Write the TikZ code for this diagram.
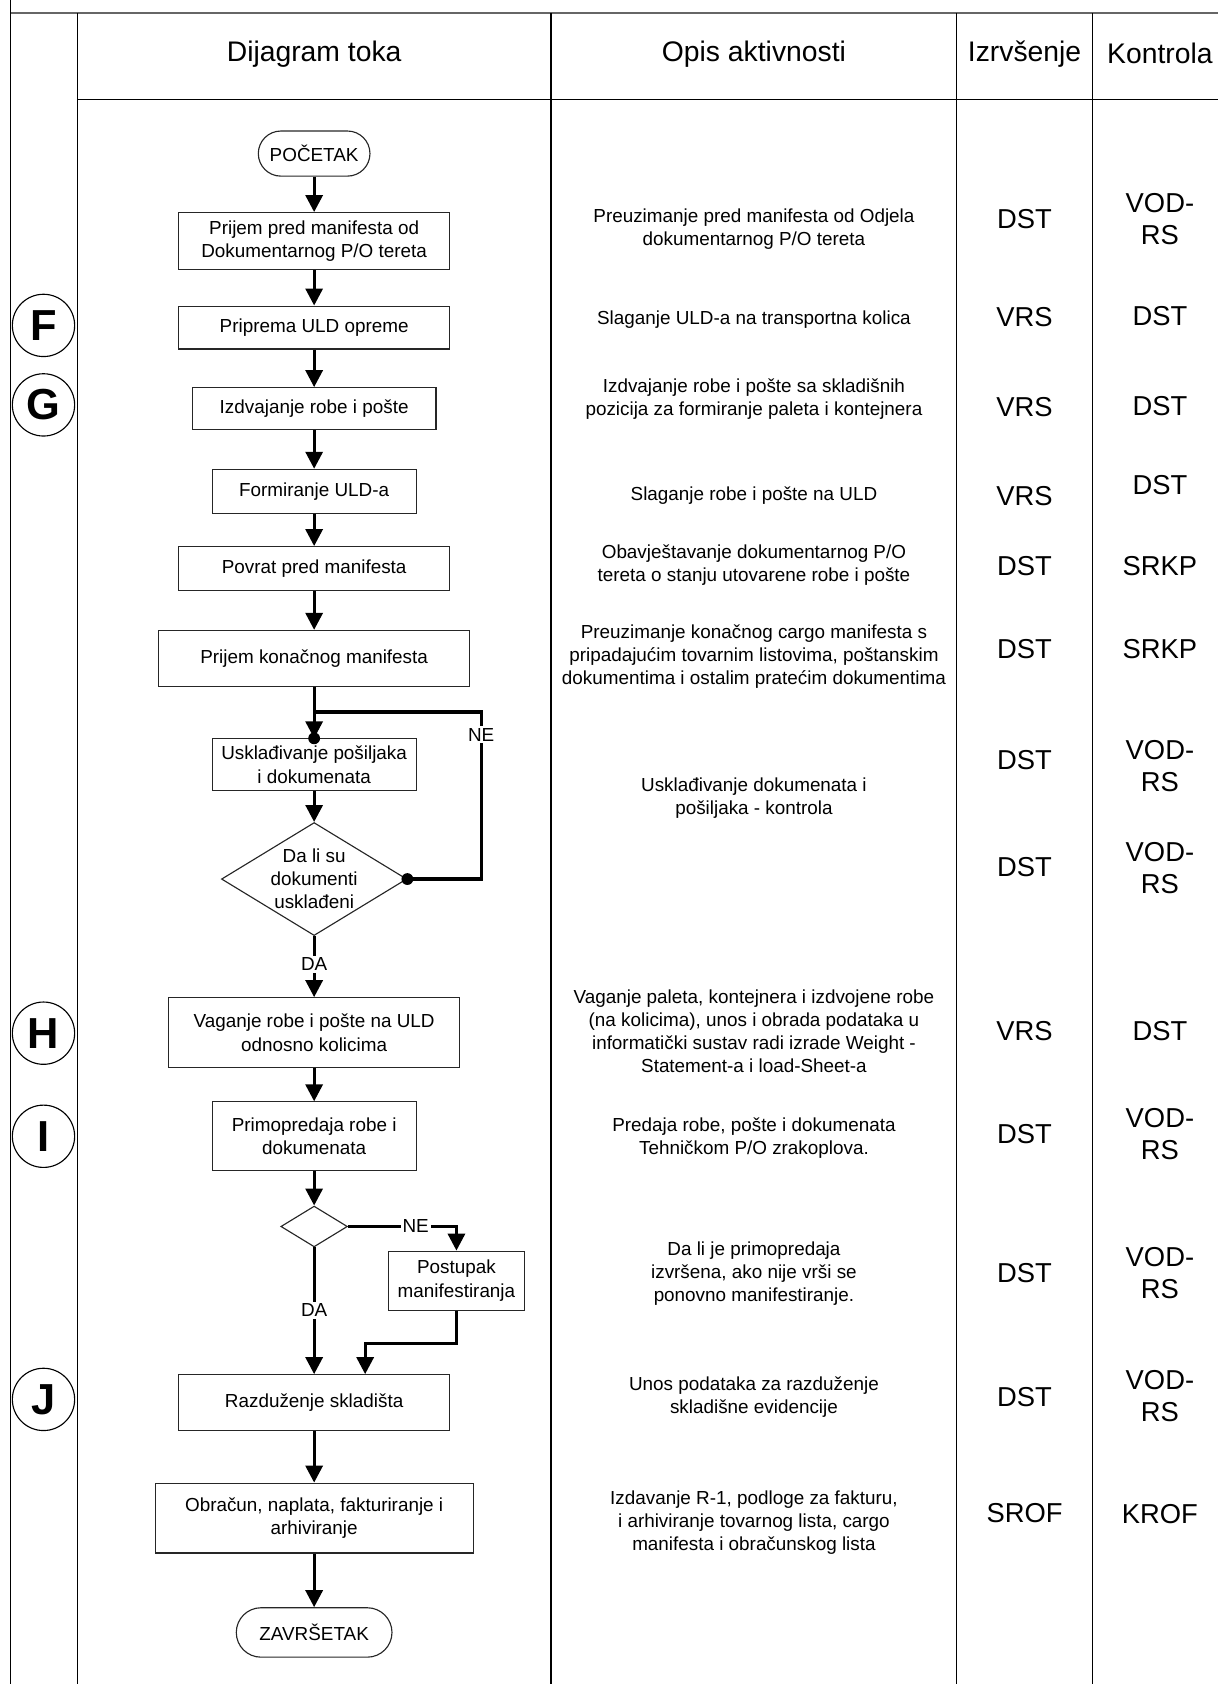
\documentclass[tikz,border=0pt]{standalone}
\usepackage{fontspec}
\setmainfont{Liberation Sans}
\usepackage{xcolor}
\usepackage{tikz}
\usetikzlibrary{arrows.meta,shapes.geometric,shapes.misc}

\begin{document}
\begin{tikzpicture}[
    korak/.style={draw=black!85, line width=0.6pt, rectangle, inner sep=2pt, align=center, font=\fontsize{10}{12.4}\selectfont},
    terminal/.style={draw=black!85, line width=0.6pt, rounded rectangle, inner sep=2pt, font=\fontsize{10}{12.4}\selectfont},
    odluka/.style={draw=black!85, line width=0.6pt, diamond, inner sep=0pt, aspect=1.64, align=center, font=\fontsize{10}{12.2}\selectfont},
    strelica/.style={line width=1.7pt, -{Triangle[width=9pt,length=9pt]}},
    veza/.style={line width=1.7pt},
    oznaka/.style={fill=white, inner sep=1pt, font=\fontsize{10}{12}\selectfont},
    opis/.style={align=center, font=\fontsize{10}{12.2}\selectfont},
    kolona/.style={align=center, font=\fontsize{14.5}{17}\selectfont},
    zaglavlje/.style={font=\fontsize{15}{18}\selectfont},
    krug/.style={draw, circle, line width=0.6pt, minimum size=1.16cm, inner sep=0pt, font=\fontsize{23}{26}\selectfont\bfseries},
    tanka/.style={line width=0.6pt}
]
    \useasboundingbox (0,0) rectangle (22.68,-31.36);

    % Table frame
    \draw[line width=1.4pt, black!60] (0.19,-0.24) -- (22.68,-0.24);
    \draw[tanka] (0.19,0) -- (0.19,-31.36);
    \foreach \x in {1.44,10.26,17.82,20.34} {
        \draw[tanka] (\x,-0.24) -- (\x,-31.36);
    }
    \draw[tanka] (1.44,-1.86) -- (22.68,-1.86);

    % Header
    \node[zaglavlje] (hdijagram) at (5.85,-1.00) {Dijagram toka};
    \node[zaglavlje] (hopis) at (14.04,-1.00) {Opis aktivnosti};
    \node[zaglavlje] (hizvrsenje) at (19.08,-1.00) {Izrvšenje};
    \node[zaglavlje] (hkontrola) at (21.60,-1.00) {Kontrola};

    % Letter marks
    \foreach \slovo/\y in {F/-6.06, G/-7.54, H/-19.24, I/-21.16, J/-26.06} {
        \node[krug] (krug\slovo) at (0.81,\y) {\slovo};
    }

    % Flowchart
    \node[terminal, minimum width=2.22cm, minimum height=0.84cm] (pocetak) at (5.85,-2.86) {POČETAK};
    \node[korak, minimum width=5.04cm, minimum height=1.06cm] (prijem) at (5.85,-4.49) {Prijem pred manifesta od\\Dokumentarnog P/O tereta};
    \node[korak, minimum width=5.04cm, minimum height=0.80cm] (priprema) at (5.85,-6.10) {Priprema ULD opreme};
    \node[korak, minimum width=4.54cm, minimum height=0.78cm] (izdvajanje) at (5.85,-7.61) {Izdvajanje robe i pošte};
    \node[korak, minimum width=3.80cm, minimum height=0.82cm] (formiranje) at (5.85,-9.15) {Formiranje ULD-a};
    \node[korak, minimum width=5.04cm, minimum height=0.82cm] (povrat) at (5.85,-10.59) {Povrat pred manifesta};
    \node[korak, minimum width=5.80cm, minimum height=1.04cm] (konacni) at (5.85,-12.26) {Prijem konačnog manifesta};
    \node[korak, minimum width=3.80cm, minimum height=0.96cm] (uskladj) at (5.85,-14.24) {Usklađivanje pošiljaka\\i dokumenata};
    \node[odluka, minimum width=3.32cm, minimum height=2.02cm] (dijamant) at (5.85,-16.37) {Da li su\\dokumenti\\usklađeni};
    \node[korak, minimum width=5.42cm, minimum height=1.30cm] (vaganje) at (5.85,-19.23) {Vaganje robe i pošte na ULD\\odnosno kolicima};
    \node[korak, minimum width=3.80cm, minimum height=1.28cm] (primopredaja) at (5.85,-21.16) {Primopredaja robe i\\dokumenata};
    \node[odluka, minimum width=1.24cm, minimum height=0.76cm] (dijamantb) at (5.85,-22.84) {};
    \node[korak, minimum width=2.52cm, minimum height=1.10cm] (postupak) at (8.50,-23.85) {Postupak\\manifestiranja};
    \node[korak, minimum width=5.04cm, minimum height=1.04cm] (razduzenje) at (5.85,-26.12) {Razduženje skladišta};
    \node[korak, minimum width=5.92cm, minimum height=1.30cm] (obracun) at (5.85,-28.27) {Obračun, naplata, fakturiranje i\\arhiviranje};
    \node[terminal, minimum width=3.04cm, minimum height=0.92cm] (kraj) at (5.85,-30.40) {ZAVRŠETAK};

    % Straight arrows
    \foreach \a/\b in {pocetak/prijem, prijem/priprema, priprema/izdvajanje, izdvajanje/formiranje,
                       formiranje/povrat, povrat/konacni, konacni/uskladj, uskladj/dijamant,
                       dijamant/vaganje, vaganje/primopredaja, primopredaja/dijamantb,
                       dijamantb/razduzenje, razduzenje/obracun, obracun/kraj} {
        \draw[strelica] (\a.south) -- (\b.north);
    }

    % Loop back (NE)
    \coordinate (spoj) at (5.85,-13.26);
    \coordinate (ugao) at (8.96,-13.26);
    \draw[veza] (dijamant.east) -| (ugao) -- (spoj);
    \fill (uskladj.north) circle (0.11);
    \fill (dijamant.east) circle (0.11);

    % Second decision
    \draw[strelica] (dijamantb.east) -| (postupak.north);
    \coordinate (koljeno) at (6.80,-25.02);
    \draw[strelica] (postupak.south) |- (koljeno) -- (koljeno |- razduzenje.north);

    % Line labels
    \node[oznaka] (ne1) at (8.96,-13.68) {NE};
    \node[oznaka] (da1) at (5.85,-17.96) {DA};
    \node[oznaka] (ne2) at (7.74,-22.84) {NE};
    \node[oznaka] (da2) at (5.85,-24.40) {DA};

    % Activity descriptions
    \node[opis] (opis1) at (14.04,-4.26) {Preuzimanje pred manifesta od Odjela\\dokumentarnog P/O tereta};
    \node[opis] (opis2) at (14.04,-5.96) {Slaganje ULD-a na transportna kolica};
    \node[opis] (opis3) at (14.04,-7.44) {Izdvajanje robe i pošte sa skladišnih\\pozicija za formiranje paleta i kontejnera};
    \node[opis] (opis4) at (14.04,-9.22) {Slaganje robe i pošte na ULD};
    \node[opis] (opis5) at (14.04,-10.52) {Obavještavanje dokumentarnog P/O\\tereta o stanju utovarene robe i pošte};
    \node[opis] (opis6) at (14.04,-12.22) {Preuzimanje konačnog cargo manifesta s\\pripadajućim tovarnim listovima, poštanskim\\dokumentima i ostalim pratećim dokumentima};
    \node[opis] (opis7) at (14.04,-14.86) {Usklađivanje dokumenata i\\pošiljaka - kontrola};
    \node[opis] (opis8) at (14.04,-19.20) {Vaganje paleta, kontejnera i izdvojene robe\\(na kolicima), unos i obrada podataka u\\informatički sustav radi izrade Weight -\\Statement-a i load-Sheet-a};
    \node[opis] (opis9) at (14.04,-21.20) {Predaja robe, pošte i dokumenata\\Tehničkom P/O zrakoplova.};
    \node[opis] (opis10) at (14.04,-23.72) {Da li je primopredaja\\izvršena, ako nije vrši se\\ponovno manifestiranje.};
    \node[opis] (opis11) at (14.04,-26.02) {Unos podataka za razduženje\\skladišne evidencije};
    \node[opis] (opis12) at (14.04,-28.36) {Izdavanje R-1, podloge za fakturu,\\i arhiviranje tovarnog lista, cargo\\manifesta i obračunskog lista};

    % Izvrsenje / Kontrola
    \foreach \y/\izv/\yk/\kon [count=\i] in {
        -4.08/DST/-4.08/{VOD-\\RS}, -5.90/VRS/-5.88/DST, -7.58/VRS/-7.56/DST,
        -9.24/VRS/-9.04/DST, -10.54/DST/-10.54/SRKP, -12.08/DST/-12.08/SRKP,
        -14.16/DST/-14.26/{VOD-\\RS}, -16.14/DST/-16.16/{VOD-\\RS}, -19.20/VRS/-19.20/DST,
        -21.12/DST/-21.12/{VOD-\\RS}, -23.70/DST/-23.70/{VOD-\\RS}, -26.02/DST/-26.00/{VOD-\\RS},
        -28.18/SROF/-28.20/KROF} {
        \node[kolona] (izv\i) at (19.08,\y) {\izv};
        \node[kolona] (kon\i) at (21.60,\yk) {\kon};
    }
\end{tikzpicture}
\end{document}
